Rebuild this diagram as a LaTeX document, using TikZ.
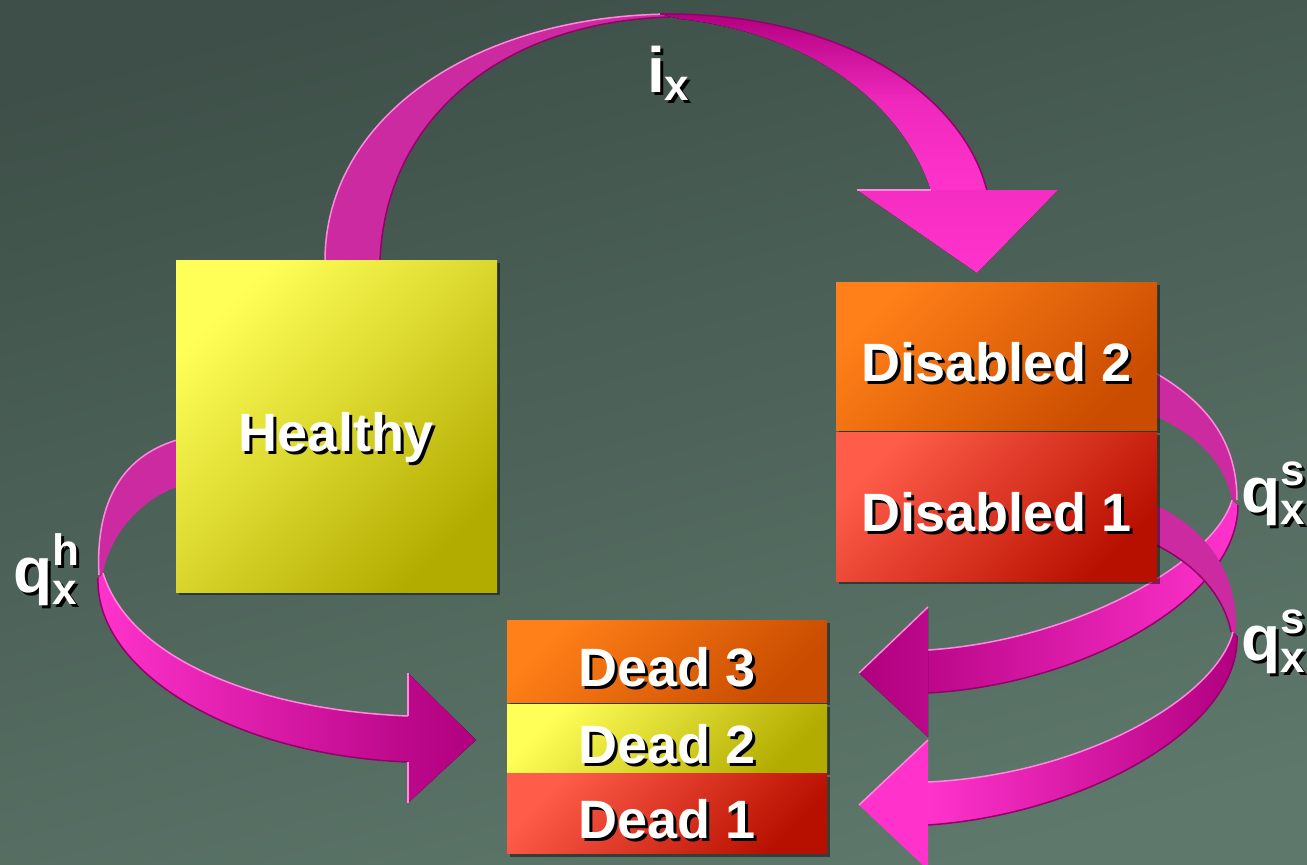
\documentclass[tikz,border=0pt]{standalone}
\usepackage{fontspec}
\setmainfont{Liberation Sans}
\usepackage{tikz}
\usetikzlibrary{positioning, shadows}
\definecolor{BgTop}{HTML}{3D4F48}
\definecolor{BgBot}{HTML}{5E786B}
\definecolor{YelLight}{HTML}{FFFF58}
\definecolor{YelDark}{HTML}{B3AC00}
\definecolor{OrgLight}{HTML}{FF8018}
\definecolor{OrgDark}{HTML}{C94C00}
\definecolor{RedLight}{HTML}{FF5C4A}
\definecolor{RedDark}{HTML}{B81000}
\definecolor{PinkBack}{HTML}{CC2AA0}
\definecolor{PinkBright}{HTML}{FF33CC}
\definecolor{PinkDeep}{HTML}{B0007F}
\definecolor{PinkEdge}{HTML}{FF8ADD}
\definecolor{PinkRim}{HTML}{96006C}

% white text with a black offset shadow
\newcommand\shadowed[1]{\makebox[0pt][l]{\hspace{3pt}\raisebox{-3pt}{\color{black}#1}}#1}
\newcommand\scriptsz{\fontsize{44}{44}\selectfont}
\newcommand\qrate[2]{q\makebox[0pt][l]{\raisebox{27pt}{\scriptsz #1}}\raisebox{-12pt}{\scriptsz #2}}

\begin{document}
\begin{tikzpicture}[
  x=1pt, y=-1pt,
  stage/.style={rectangle, inner sep=0pt, text=white, minimum width=321pt,
    text height=50pt, text depth=0pt,
    font=\bfseries\fontsize{54}{60}\selectfont,
    drop shadow={shadow xshift=3pt, shadow yshift=-3pt, fill=black, opacity=0.45}},
  yellowbox/.style={stage, top color=YelLight, bottom color=YelDark, shading angle=45},
  orangebox/.style={stage, top color=OrgLight, bottom color=OrgDark, shading angle=45},
  redbox/.style={stage, top color=RedLight, bottom color=RedDark, shading angle=45},
  ratelabel/.style={inner sep=0pt, text=white, font=\bfseries\fontsize{64}{64}\selectfont},
  back/.style={fill=PinkBack},
  rim/.style={draw=PinkEdge, line width=1.5pt},
  darkrim/.style={draw=PinkRim, line width=1.5pt},
  node distance=2pt
]
\useasboundingbox (0,0) rectangle (1307,865);
\clip (0,0) rectangle (1307,865);
\fill[top color=BgTop, bottom color=BgBot, shading angle=15] (-20,-20) rectangle (1327,885);

% i_x ribbon
\fill[back] (325,261) .. controls (325,120) and (470,16) .. (670,14) -- (670,17) .. controls (500,22) and (385,120) .. (380,261) -- cycle;
\draw[rim] (325,261) .. controls (325,120) and (470,16) .. (670,14);
\draw[darkrim] (380,261) .. controls (385,120) and (500,22) .. (670,17);
\fill[top color=PinkDeep, bottom color=PinkBright, middle color=PinkBright!80!PinkDeep] (660,14) .. controls (850,12) and (965,100) .. (987,191) -- (931,191) .. controls (905,110) and (820,35) .. (680,19) -- cycle;
\draw[darkrim] (660,14) .. controls (850,12) and (965,100) .. (987,191);
\fill[top color=PinkBright!88!PinkDeep, bottom color=PinkBright] (857,190) -- (1058,190) -- (977,273) -- cycle;
\draw[rim] (857,190) -- (931,190);

% q_x^h ribbon
\fill[back] (177,440) .. controls (110,460) and (96,520) .. (99,575) -- (103,573) .. controls (110,535) and (140,500) .. (177,487) -- cycle;
\draw[rim] (177,440) .. controls (110,460) and (96,520) .. (99,575);
\fill[left color=PinkBright, right color=PinkDeep!85!PinkBright] (103,573) .. controls (130,660) and (260,710) .. (408,716) -- (408,762) .. controls (230,755) and (95,670) .. (98,578) -- cycle;
\draw[rim] (103,573) .. controls (130,660) and (260,710) .. (408,716);
\draw[darkrim] (408,762) .. controls (230,755) and (95,670) .. (98,578);
\fill[left color=PinkDeep!85!PinkBright, right color=PinkDeep] (408,673) -- (476,740) -- (408,803) -- cycle;
\draw[rim] (408,673) -- (408,716) (408,762) -- (408,803);

% q_x^s ribbon from Disabled 2
\fill[back] (1150,370) .. controls (1205,400) and (1237,440) .. (1237,500) -- (1232,500) .. controls (1225,465) and (1200,435) .. (1150,414) -- cycle;
\draw[rim] (1150,370) .. controls (1205,400) and (1237,440) .. (1237,500);
\fill[left color=PinkDeep!85!PinkBright, right color=PinkBright] (1232,500) .. controls (1215,560) and (1080,640) .. (928,650) -- (928,693) .. controls (1080,685) and (1238,600) .. (1238,505) -- cycle;
\draw[rim] (1232,500) .. controls (1215,560) and (1080,640) .. (928,650);
\draw[darkrim] (928,693) .. controls (1080,685) and (1238,600) .. (1238,505);
\fill[left color=PinkDeep, right color=PinkDeep!85!PinkBright] (928,607) -- (859,673) -- (928,737) -- cycle;
\draw[rim] (928,607) -- (859,673);

% q_x^s ribbon from Disabled 1
\fill[back] (1150,502) .. controls (1210,530) and (1238,575) .. (1236,632) -- (1231,632) .. controls (1225,600) and (1200,565) .. (1150,542) -- cycle;
\draw[darkrim] (1231,632) .. controls (1225,600) and (1200,565) .. (1150,542);
\fill[left color=PinkBright, right color=PinkDeep] (1233,632) .. controls (1215,700) and (1080,775) .. (928,782) -- (928,825) .. controls (1080,815) and (1240,730) .. (1237,636) -- cycle;
\draw[rim] (1233,632) .. controls (1215,700) and (1080,775) .. (928,782);
\draw[darkrim] (928,825) .. controls (1080,815) and (1240,730) .. (1237,636);
\fill[PinkBright] (928,740) -- (859,805) -- (928,870) -- cycle;
\draw[rim] (928,740) -- (859,805);

% states
\node[yellowbox, minimum height=332pt] (healthy) at (336.5,426) {\shadowed{Healthy}};
\node[orangebox, minimum height=148pt] (dis2) at (996.5,356) {\shadowed{Disabled 2}};
\node[redbox, minimum height=149pt, below=2pt of dis2] (dis1) {\shadowed{Disabled 1}};
\node[orangebox, minimum width=320pt, minimum height=82pt] (dead3) at (667,661) {\shadowed{Dead 3}};
\node[yellowbox, minimum width=320pt, minimum height=68pt, below=2pt of dead3] (dead2) {\shadowed{Dead 2}};
\node[redbox, minimum width=320pt, minimum height=80pt, below=1pt of dead2] (dead1) {\shadowed{Dead 1}};

% rates
\node[ratelabel, anchor=base west] (ix) at (647,92) {\shadowed{i\raisebox{-8pt}{\scriptsz x}}};
\node[ratelabel, anchor=base west] (qh) at (13,592) {\shadowed{\qrate{h}{x}}};
\node[ratelabel, anchor=base west] (qs2) at (1241,512) {\shadowed{\qrate{s}{x}}};
\node[ratelabel, anchor=base west] (qs1) at (1241,660) {\shadowed{\qrate{s}{x}}};
\end{tikzpicture}
\end{document}
